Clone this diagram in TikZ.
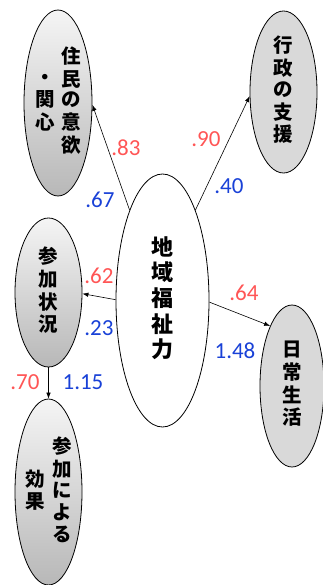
\documentclass[tikz,border=0pt]{standalone}
\usepackage{fontspec}
\usetikzlibrary{shapes.geometric,arrows.meta}
\newfontfamily\jpfont{Noto Sans CJK JP}
\newfontfamily\numfont{Carlito}
\definecolor{stdcol}{RGB}{255,85,85}
\definecolor{rawcol}{RGB}{25,65,215}
\newcommand{\tate}[1]{\begin{tabular}[c]{@{}c@{}}#1\end{tabular}}
\tikzset{
  factor/.style={ellipse, draw, line width=0.8pt, inner sep=0pt,
    font=\jpfont\bfseries\fontsize{19.5}{20.5}\selectfont},
  shadedfac/.style={factor, top color=black!4, bottom color=black!28},
  flatfac/.style={factor, fill=black!15},
  pathline/.style={-{Latex[length=6pt,width=4.5pt]}, line width=0.6pt},
  stdcoef/.style={font=\numfont\fontsize{23}{23}\selectfont, text=stdcol},
  rawcoef/.style={font=\numfont\fontsize{23}{23}\selectfont, text=rawcol}
}
\begin{document}
\begin{tikzpicture}[x=1pt, y=-1pt]
  \useasboundingbox (0,0) rectangle (322,585);
  % Latent factor
  \node[factor, fill=white, minimum width=93pt, minimum height=253pt,
    font=\jpfont\bfseries\fontsize{22}{23}\selectfont]
    (fuku) at (162.5,300.5) {\tate{地\\域\\福\\祉\\力}};
  % Indicators
  \node[shadedfac, minimum width=68pt, minimum height=186pt]
    (jumin) at (58,103) {\tate{・\\関\\心}\hspace{7pt}\tate{住\\民\\の\\意\\欲}};
  \node[flatfac, minimum width=67pt, minimum height=162pt]
    (gyosei) at (283.5,92) {\tate{行\\政\\の\\支\\援}};
  \node[shadedfac, minimum width=67pt, minimum height=149pt]
    (sanka) at (48.5,292.5) {\tate{参\\加\\状\\況}};
  \node[flatfac, minimum width=64pt, minimum height=162pt]
    (nichijo) at (292,386) {\tate{日\\常\\生\\活}};
  \node[shadedfac, minimum width=67pt, minimum height=186pt]
    (koka) at (48.5,492) {\tate{効\\果}\hspace{7pt}\tate{参\\加\\に\\よ\\る}};
  % Paths
  \draw[pathline] (fuku.110) -- (jumin.-3);
  \draw[pathline] (fuku.70) -- (gyosei.187);
  \draw[pathline] (fuku.179) -- (sanka.-2);
  \draw[pathline] (fuku.-2) -- (nichijo.110);
  \draw[pathline] (sanka.south) -- (koka.north);
  % Coefficients
  \node[stdcoef] (c1) at (126,148) {.83};
  \node[rawcoef] (r1) at (100,200) {.67};
  \node[stdcoef] (c2) at (206,139) {.90};
  \node[rawcoef] (r2) at (229,186) {.40};
  \node[stdcoef] (c3) at (99,276) {.62};
  \node[rawcoef] (r3) at (99,328) {.23};
  \node[stdcoef] (c4) at (244,293) {.64};
  \node[rawcoef] (r4) at (235,351) {1.48};
  \node[stdcoef] (c5) at (25,382) {.70};
  \node[rawcoef] (r5) at (83,382) {1.15};
\end{tikzpicture}
\end{document}
